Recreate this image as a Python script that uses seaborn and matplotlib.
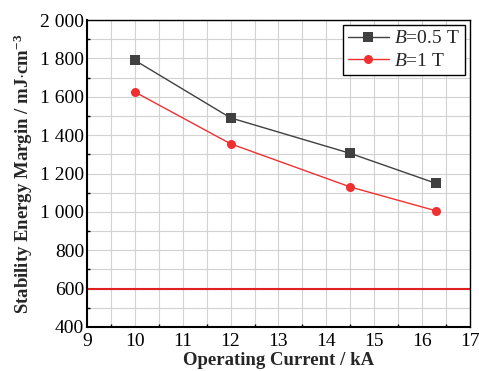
import matplotlib
matplotlib.use("Agg")
import matplotlib.pyplot as plt
import seaborn as sns
import pandas as pd
from matplotlib.ticker import FuncFormatter, MultipleLocator

current = [10, 12, 14.5, 16.3]
margin_05T = [1790, 1490, 1305, 1148]
margin_1T = [1625, 1355, 1130, 1005]
threshold = 600
labels = ["$B$=0.5 T", "$B$=1 T"]

sns.set_theme(style="white")
plt.rcParams['font.family'] = ['Liberation Serif', 'DejaVu Serif']
plt.rcParams['mathtext.fontset'] = 'custom'
plt.rcParams['mathtext.it'] = 'Liberation Serif:italic'
plt.rcParams['mathtext.rm'] = 'Liberation Serif'
plt.rcParams['mathtext.bf'] = 'Liberation Serif:bold'

df = pd.DataFrame({
    "current": current * 2,
    "margin": margin_05T + margin_1T,
    "series": [labels[0]] * len(current) + [labels[1]] * len(current),
})

fig = plt.figure(figsize=(4.79, 3.71), dpi=100)
ax = fig.add_axes([0.1816, 0.1186, 0.7994, 0.8274])

sns.lineplot(data=df, x="current", y="margin", hue="series", style="series",
             palette={labels[0]: "#404040", labels[1]: "#f03030"},
             markers={labels[0]: "s", labels[1]: "o"}, dashes=False,
             markersize=6.5, linewidth=1, markeredgewidth=0, ax=ax, zorder=3)
ax.axhline(threshold, color="#e02020", linewidth=1.5, zorder=2)

ax.set_xlim(9, 17)
ax.set_ylim(400, 2000)
ax.xaxis.set_major_locator(MultipleLocator(1))
ax.xaxis.set_minor_locator(MultipleLocator(0.5))
ax.yaxis.set_major_locator(MultipleLocator(200))
ax.yaxis.set_minor_locator(MultipleLocator(100))
ax.yaxis.set_major_formatter(FuncFormatter(lambda v, p: f"{int(v):,}".replace(",", " ")))
ax.grid(True, which="both", color="#d2d2d2", linewidth=0.8, linestyle="-")
ax.set_axisbelow(True)
ax.tick_params(which="both", direction="in", top=False, right=False, labelsize=14, colors="black")
ax.tick_params(axis="x", which="major", length=4, width=1, pad=4)
ax.tick_params(axis="y", which="major", length=4, width=1, pad=2)
ax.tick_params(which="minor", length=2, width=1, bottom=True, left=True)
for s in ax.spines.values():
    s.set_color("black")
    s.set_linewidth(1)
ax.spines["left"].set_linewidth(1.5)
ax.spines["bottom"].set_linewidth(1.5)

ax.set_xlabel("Operating Current / kA", fontsize=13.5, fontweight="bold", labelpad=1.5)
ax.set_ylabel("Stability Energy Margin / mJ$\\mathbf{\\cdot}$cm$^{\\mathbf{-3}}$", fontsize=13.5, fontweight="bold", labelpad=4)

leg = ax.legend(loc="upper right", fontsize=14, frameon=True, fancybox=False,
                edgecolor="black", borderaxespad=0.25, handlelength=2.1,
                borderpad=0.25, labelspacing=0.25, handletextpad=0.3)
leg.get_frame().set_linewidth(1)
leg.get_frame().set_alpha(1)

fig.savefig("out.png", dpi=100)
